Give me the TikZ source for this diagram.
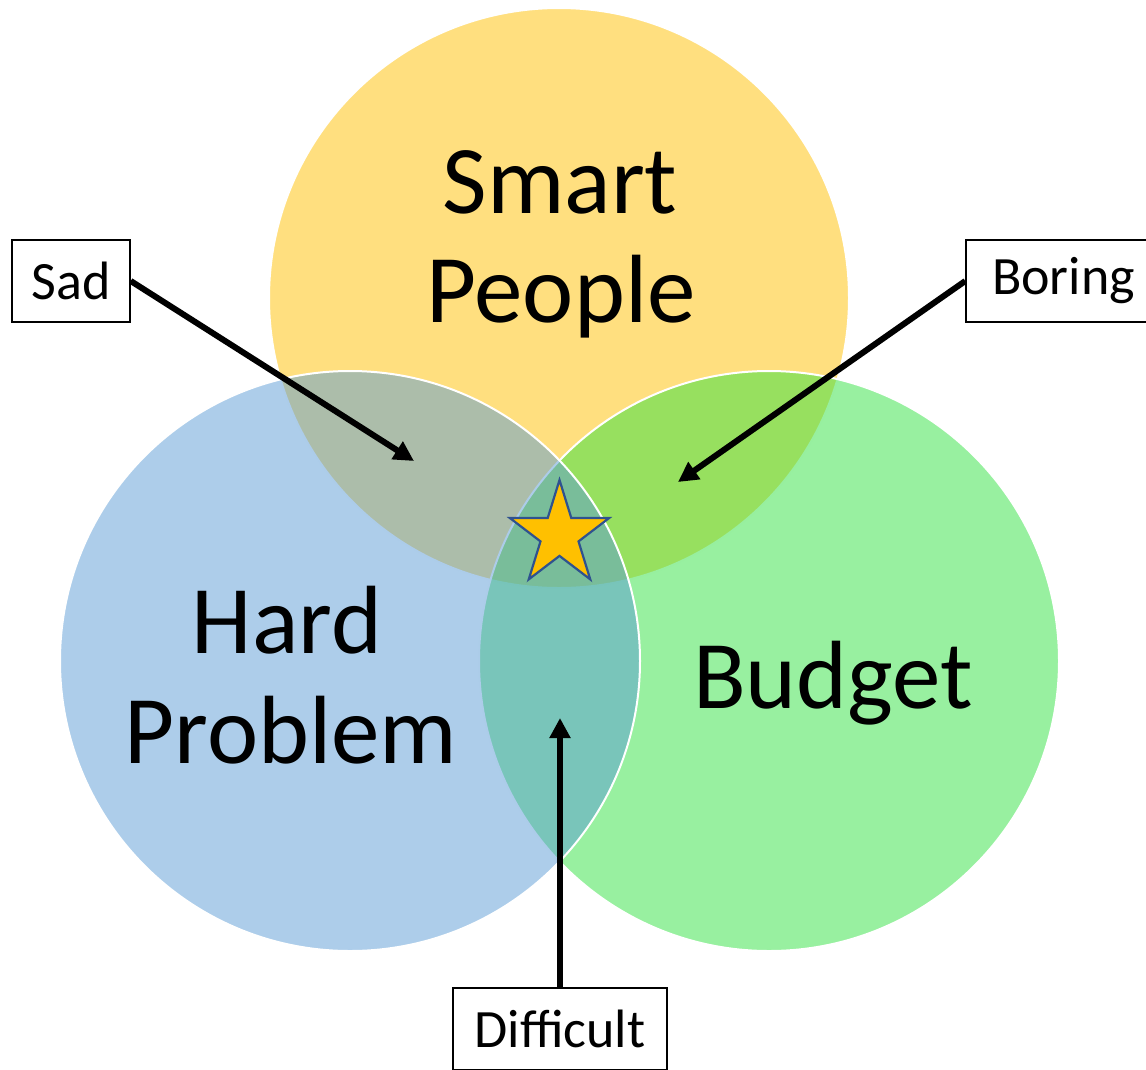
\documentclass[tikz,border=0pt]{standalone}
\usepackage{fontspec}
\setmainfont{Carlito}
\usetikzlibrary{arrows.meta}
\definecolor{cyellow}{HTML}{FFC000}
\definecolor{cblue}{HTML}{5B9BD5}
\definecolor{cgreen}{RGB}{49,225,65}
\definecolor{starline}{HTML}{2F528F}
\tikzset{
  venn/.style={fill opacity=0.5, draw=white, line width=2pt},
  bigtext/.style={inner sep=0pt, anchor=base, font=\fontsize{97}{109}\selectfont},
  labelbox/.style={draw=black, fill=white, line width=1.5pt, minimum height=82pt, inner sep=0pt, font=\fontsize{54}{60}\selectfont},
  pointer/.style={line width=6pt, -{Triangle[length=20pt,width=20pt]}},
  starsty/.style={fill=cyellow, draw=starline, line width=2.2pt, line join=miter}
}
\begin{document}
\begin{tikzpicture}[x=1pt, y=-1pt]
\useasboundingbox (0,0) rectangle (1146,1069);
% circles
\draw[venn, fill=cyellow] (559,298) circle[radius=290];
\draw[venn, fill=cgreen] (769,661) circle[radius=290];
\draw[venn, fill=cblue] (350,661) circle[radius=290];
% texts
\node[bigtext] (smart1) at (560,213) {Smart};
\node[bigtext] (smart2) at (561,322) {People};
\node[bigtext] (hard1) at (287,653) {Hard};
\node[bigtext] (hard2) at (291,763) {Problem};
\node[bigtext] (budget) at (833,708) {Budget};
% star
\begin{scope}[shift={(559.5,534.9)}, yscale=-1.05]
\draw[starsty] (90:52.3) -- (126:20) -- (162:52.3) -- (198:20) -- (234:52.3) -- (270:20) -- (306:52.3) -- (342:20) -- (18:52.3) -- (54:20) -- cycle;
\end{scope}
% label boxes
\node[labelbox, minimum width=118pt] (sad) at (71,281) {Sad};
\node[labelbox, minimum width=195pt] (boring) at (1063.5,281) {Boring};
\node[labelbox, minimum width=214pt] (difficult) at (560,1029) {Difficult};
% arrow targets
\coordinate (sadtip) at (414,461);
\coordinate (boringtip) at (678,482);
\coordinate (difftip) at (560,718);
\draw[pointer] (sad.east) -- (sadtip);
\draw[pointer] (boring.west) -- (boringtip);
\draw[pointer] (difficult.north) -- (difftip);
\end{tikzpicture}
\end{document}
